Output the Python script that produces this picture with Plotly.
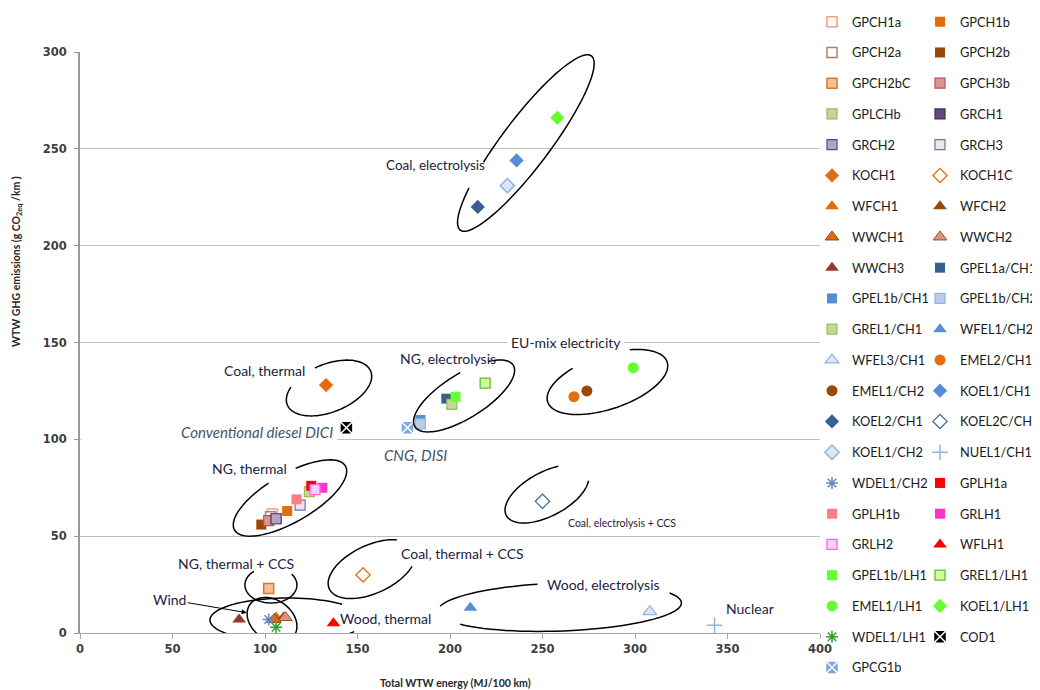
import math
import plotly.graph_objects as go

# ---------------- data ----------------
series = ["GPCH1a", "GPCH1b", "GPCH2a", "GPCH2b", "GPCH2bC", "GPCH3b", "GPLCHb", "GRCH1",
          "GRCH2", "GRCH3", "KOCH1", "KOCH1C", "WFCH1", "WFCH2", "WWCH1", "WWCH2",
          "WWCH3", "GPEL1a/CH1", "GPEL1b/CH1", "GPEL1b/CH2", "GREL1/CH1", "WFEL1/CH2",
          "WFEL3/CH1", "EMEL2/CH1", "EMEL1/CH2", "KOEL1/CH1", "KOEL2/CH1", "KOEL2C/CH1",
          "KOEL1/CH2", "NUEL1/CH1", "WDEL1/CH2", "GPLH1a", "GPLH1b", "GRLH1", "GRLH2",
          "WFLH1", "GPEL1b/LH1", "GREL1/LH1", "EMEL1/LH1", "KOEL1/LH1", "WDEL1/LH1",
          "COD1", "GPCG1b"]
energy = [104, 112, 103, 98, 102, 102, 124, 106,
          106, 119, 133, 153, 106, 110, 105, 111,
          86, 198, 184, 184, 201, 211,
          308, 267, 274, 236, 215, 250,
          231, 343, 102, 125, 117, 131, 127,
          137, 203, 219, 299, 258, 106,
          144, 177]
ghg = [61.5, 63, 60, 56, 23, 58, 73, 59,
       59, 66, 128, 30, 8, 8, 7, 8,
       7, 121, 110, 108, 118, 13,
       11, 122, 125, 244, 220, 68,
       231, 4, 7, 76, 69, 75, 74,
       5, 122, 129, 137, 266, 3,
       106, 106]

x_ticks = [0, 50, 100, 150, 200, 250, 300, 350, 400]
y_ticks = [0, 50, 100, 150, 200, 250, 300]

# ---------------- styles ----------------
OR, BR, DB, MB, LB = "#e46c0a", "#984807", "#366092", "#558ed5", "#8eb4e3"
def st(sym, fill, line=None, lw=0, size=10):
    return dict(symbol=sym, color=fill, line=dict(color=line or fill, width=lw), size=size)

styles = {
    "GPCH1a": st("square", "white", "#f0a07a", 1.5),
    "GPCH1b": st("square", OR),
    "GPCH2a": st("square", "white", "#b07c6a", 1.5),
    "GPCH2b": st("square", BR),
    "GPCH2bC": st("square", "#fac090", "#d07a3a", 1.5),
    "GPCH3b": st("square", "#d99694", "#c0504d", 1.2),
    "GPLCHb": st("square", "#c3d69b", "#9bbb59", 1.2),
    "GRCH1": st("square", "#604a7b", "#403152", 1.2),
    "GRCH2": st("square", "#b3a2c7", "#604a7b", 1.2),
    "GRCH3": st("square", "#ebe6f0", "#7f7090", 1.2),
    "KOCH1": st("diamond", OR, size=11),
    "KOCH1C": st("diamond-open", OR, OR, 1.3, 11),
    "WFCH1": st("triangle-up", OR, size=12),
    "WFCH2": st("triangle-up", BR, size=12),
    "WWCH1": st("triangle-up", OR, BR, 1, 12),
    "WWCH2": st("triangle-up", "#d9967a", "#a0522d", 1, 12),
    "WWCH3": st("triangle-up", "#953735", size=12),
    "GPEL1a/CH1": st("square", DB),
    "GPEL1b/CH1": st("square", MB),
    "GPEL1b/CH2": st("square", "#b9cde5", LB, 1.2),
    "GREL1/CH1": st("square", "#c3d69b", "#9bbb59", 1.2),
    "WFEL1/CH2": st("triangle-up", MB, size=12),
    "WFEL3/CH1": st("triangle-up", "#dce6f2", LB, 1.3, 12),
    "EMEL2/CH1": st("circle", OR, size=11),
    "EMEL1/CH2": st("circle", BR, size=11),
    "KOEL1/CH1": st("diamond", MB, size=11),
    "KOEL2/CH1": st("diamond", DB, size=11),
    "KOEL2C/CH1": st("diamond-open", DB, DB, 1.2, 11),
    "KOEL1/CH2": st("diamond", "#dce6f2", LB, 1.5, 11),
    "NUEL1/CH1": st("cross-thin-open", LB, LB, 1.5, 11),
    "WDEL1/CH2": st("asterisk-open", "#6a86b8", "#6a86b8", 1.5, 10),
    "GPLH1a": st("square", "#ff0000"),
    "GPLH1b": st("square", "#ff7c80"),
    "GRLH1": st("square", "#ff33cc"),
    "GRLH2": st("square", "#ffccff", "#ff66cc", 1.3),
    "WFLH1": st("triangle-up", "#ff0000", size=12),
    "GPEL1b/LH1": st("square", "#66ff33"),
    "GREL1/LH1": st("square", "#ccff99", "#66bb33", 1.3),
    "EMEL1/LH1": st("circle", "#66ff33", size=11),
    "KOEL1/LH1": st("diamond", "#66ff33", size=11),
    "WDEL1/LH1": st("asterisk-open", "#33a02c", "#33a02c", 1.5, 10),
    "COD1": st("square-x", "black", "white", 1.5, 13),
    "GPCG1b": st("square-x", "#7fa8de", "white", 1.5, 13),
}

fig = go.Figure()
for i, name in enumerate(series):
    s = styles[name]
    fig.add_trace(go.Scatter(
        x=[energy[i]], y=[ghg[i]], mode="markers", name=name,
        legend="legend" if i % 2 == 0 else "legend2", legendgroup=name,
        marker=dict(symbol=s["symbol"], color=s["color"], size=s["size"], line=s["line"]),
    ))

# ---------------- layout geometry ----------------
OFF = 8                      # page body margin of the written html
W, H = 1040 - OFF, 690 - OFF
ML, MR, MT, MB_ = 80 - OFF, 220, 52 - OFF, 57
PW, PH = W - ML - MR, H - MT - MB_
SX, SY = PW / 400.0, PH / 300.0   # px per data unit

def px_to_paper(px, py):
    return (px - OFF - ML) / PW, (MT + PH - (py - OFF)) / PH

def ellipse_path(cx, cy, a, b, ang, arcs):
    th = math.radians(ang)
    parts = []
    for t0, t1 in arcs:
        n = max(8, int(abs(t1 - t0) / 4))
        pts = []
        for k in range(n + 1):
            t = math.radians(t0 + (t1 - t0) * k / n)
            dx = a * math.cos(t) * math.cos(th) - b * math.sin(t) * math.sin(th)
            dy = a * math.cos(t) * math.sin(th) + b * math.sin(t) * math.cos(th)
            pts.append((cx + dx / SX, cy + dy / SY))
        parts.append("M " + " L ".join(f"{px:.3f},{py:.3f}" for px, py in pts))
    return " ".join(parts)

ellipses = [
    (241.0, 253.0, 109, 24, 53, [(130, 472)]),       # coal electrolysis
    (134.6, 126.5, 45, 24, 22, [(141, 457)]),        # coal thermal
    (207.6, 122.4, 58, 22, 32, [(81, 408)]),         # NG electrolysis
    (285.1, 129.6, 63, 27, 18.6, [(117, 420)]),      # EU mix
    (252.4, 71.8, 46, 22, 28, [(60, 339)]),          # coal electrolysis + CCS
    (113.5, 69.7, 64, 24, 30, [(100, 432)]),         # NG thermal
    (103.2, 24.8, 26, 18, 0, [(131, 397)]),          # NG thermal + CCS
    (103.8, 6.7, 27, 20, -35, [(0, 360)]),           # wind
    (112.4, 6.7, 78, 22, 0, [(46, 328)]),            # wood thermal
    (157.8, 33.0, 47, 24, 25, [(42, 323)]),          # coal thermal + CCS
    (259.2, 13.4, 122, 24, 2, [(100, 168), (215, 385)]),  # wood electrolysis
]
shapes = [dict(type="rect", xref="x", yref="y", x0=0.6, x1=139, y0=97, y1=107.5,
               fillcolor="white", line=dict(width=0), layer="between")]
for cx, cy, a, b, ang, arcs in ellipses:
    shapes.append(dict(type="path", xref="x", yref="y", path=ellipse_path(cx, cy, a, b, ang, arcs),
                       line=dict(color="black", width=1.5), layer="above"))

LBL = "#1c2340"
FONT = "Lato"
def lab(text, x, y, size=14, color=LBL, style="normal", bg=None, xanchor="center"):
    d = dict(text=text, x=x, y=y, xref="x", yref="y", showarrow=False, xanchor=xanchor,
             font=dict(family=FONT, size=size, color=color, style=style))
    if bg:
        d.update(bgcolor=bg, borderpad=3)
    return d

ytx, yty = px_to_paper(17, 262)
xtx, xty = px_to_paper(455, 683)
annotations = [
    lab("Coal, electrolysis", 192.4, 241.6, size=13.5),
    lab("Coal, thermal", 99.5, 135.8),
    lab("NG, electrolysis", 198.9, 141.5),
    lab("EU-mix electricity", 262.7, 150, bg="white"),
    lab("Conventional diesel DICI", 138, 103.8, size=15, color="#44546a", style="italic", xanchor="right"),
    lab("CNG, DISI", 181.6, 91.9, size=15, color="#44546a", style="italic"),
    lab("Coal, electrolysis + CCS", 293, 56.8, size=10.5),
    lab("NG, thermal", 91.4, 84.7),
    lab("NG, thermal + CCS", 84.3, 36.1),
    lab("Coal, thermal + CCS", 207, 41.3),
    lab("Wood, thermal", 165.4, 7.7),
    lab("Wood, electrolysis", 283, 24.8),
    lab("Nuclear", 362, 12.4),
    dict(text="Wind", x=90.1, y=10.5, xref="x", yref="y", ax=-77, ay=-13, showarrow=True,
         arrowhead=2, arrowsize=1, arrowwidth=1, arrowcolor="black", standoff=0,
         font=dict(family=FONT, size=14, color=LBL)),
    dict(text="<b>WTW GHG emissions (g CO<sub>2eq</sub> /km )</b>", xref="paper", yref="paper",
         x=ytx, y=yty, xanchor="center", yanchor="middle", textangle=-90, showarrow=False,
         font=dict(family=FONT, size=10.5, color="#262626")),
    dict(text="<b>Total WTW energy (MJ/100 km)</b>", xref="paper", yref="paper",
         x=xtx, y=xty, xanchor="center", yanchor="middle", showarrow=False,
         font=dict(family=FONT, size=10.5, color="#262626")),
]

tickfont = dict(family="DejaVu Sans", size=11.5, color="#404040", weight="bold")
legfont = dict(family=FONT, size=12.8, color="#1a1a1a")
leg_x1, _ = px_to_paper(812, 0)
leg_x2, _ = px_to_paper(920, 0)
row_h = 12.8 * 1.3 + 3
first_center = 21.7 - OFF
leg_top = first_center - 5 - row_h / 2
leg_y = 1 + (MT - leg_top) / PH
leg_common = dict(y=leg_y, yanchor="top", xanchor="left", tracegroupgap=30.75 - row_h,
                  font=legfont, bgcolor="rgba(0,0,0,0)", itemclick=False, maxheight=1)
fig.update_layout(
    width=W, height=H, margin=dict(l=ML, r=MR, t=MT, b=MB_, autoexpand=False),
    paper_bgcolor="white", plot_bgcolor="white",
    xaxis=dict(range=[0, 400], tickvals=x_ticks, showgrid=False, zeroline=False,
               showline=True, linecolor="#a6a6a6", linewidth=1, ticks="outside",
               ticklen=5, tickcolor="#a6a6a6", tickfont=tickfont),
    yaxis=dict(range=[0, 300], tickvals=y_ticks, showgrid=True, gridcolor="#bfbfbf",
               gridwidth=1, zeroline=False, showline=True, linecolor="#999999", linewidth=2,
               ticks="outside", ticklen=4, tickcolor="#999999", tickfont=tickfont,
               ticklabelstandoff=5),
    legend=dict(x=leg_x1, **leg_common),
    legend2=dict(x=leg_x2, **leg_common),
    shapes=shapes, annotations=annotations, showlegend=True,
)

fig.write_html("out.html")
